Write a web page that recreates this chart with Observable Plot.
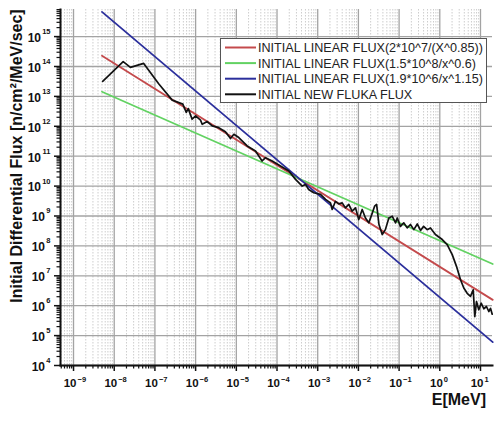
<!DOCTYPE html>
<html>
<head>
<meta charset="utf-8">
<script src="https://cdn.jsdelivr.net/npm/d3@7"></script>
<script src="https://cdn.jsdelivr.net/npm/@observablehq/plot@0.6"></script>
<style>
  body { margin: 0; background: #fff; }
  #chart { position: relative; width: 498px; height: 421px; }
  #chart svg { display: block; }
  #legend { position: absolute; left: 0; top: 0; pointer-events: none; }
</style>
</head>
<body>
<div id="chart"></div>
<script>
// Energy span (MeV) over which the fitted power laws are drawn
const fitEnergyRange = [5e-9, 20];

// Power-law fits: flux = coeff / E^exponent
const fitNames = [
  "INITIAL LINEAR FLUX(2*10^7/(X^0.85))",
  "INITIAL LINEAR FLUX(1.5*10^8/x^0.6)",
  "INITIAL LINEAR FLUX(1.9*10^6/x^1.15)"
];
const fitCoeff = [2e7, 1.5e8, 1.9e6];
const fitExponent = [0.85, 0.6, 1.15];
const fitColors = ["#c44a4c", "#62d262", "#2b2f9c"];

// FLUKA spectrum
const flukaName = "INITIAL NEW FLUKA FLUX";
const flukaEnergy = [
  5.2e-9, 1.66e-8, 2.5e-8, 5.3e-8, 1.25e-7, 2.66e-7, 4.85e-7, 5.9e-7, 6.6e-7, 8.2e-7,
  1.0e-6, 1.32e-6, 1.45e-6, 1.93e-6, 2.56e-6, 3.7e-6, 5.4e-6, 7.2e-6, 8.7e-6, 1.15e-5,
  1.85e-5, 2.96e-5, 4.3e-5, 5.2e-5, 7.6e-5, 1.22e-4, 1.95e-4, 2.85e-4, 4.16e-4, 5.0e-4,
  6.0e-4, 8.0e-4, 1.17e-3, 1.56e-3, 2.06e-3, 2.27e-3, 2.73e-3, 3.3e-3, 4.0e-3, 4.8e-3,
  5.8e-3, 7.0e-3, 8.5e-3, 1.02e-2, 1.24e-2, 1.49e-2, 1.8e-2, 2.2e-2, 2.5e-2, 2.8e-2,
  3.2e-2, 3.85e-2, 4.6e-2, 5.6e-2, 6.8e-2, 8.2e-2, 9.0e-2, 0.108, 0.130, 0.158,
  0.19, 0.23, 0.28, 0.336, 0.40, 0.49, 0.59, 0.78, 1.15, 1.52,
  2.02, 2.57, 3.23, 3.89, 4.71, 5.68, 6.62, 7.24, 7.98, 9.08,
  10.4, 12.05, 14.0, 16.0, 17.6, 19.4
];
const flukaFlux = [
  3.2e13, 1.45e14, 9.3e13, 1.27e14, 2.6e13, 7.5e12, 5.5e12, 2.9e12, 3.9e12, 1.73e12,
  2.23e12, 1.6e12, 1.17e12, 1.44e12, 1.03e12, 9.0e11, 6.6e11, 3.9e11, 5.4e11, 4.2e11,
  2.2e11, 1.49e11, 6.9e10, 8.9e10, 6.9e10, 4.7e10, 3.2e10, 1.68e10, 1.0e10, 1.14e10,
  7.7e9, 6.0e9, 5.3e9, 3.6e9, 2.75e9, 1.65e9, 3.1e9, 2.55e9, 2.75e9, 1.87e9,
  2.43e9, 1.45e9, 1.87e9, 7.6e8, 1.65e9, 8.6e8, 5.9e8, 1.27e9, 2.13e9, 2.43e9,
  5.2e8, 2.4e8, 3.5e8, 8.6e8, 9.8e8, 5.9e8, 8.6e8, 4.5e8, 5.9e8, 4.0e8,
  5.2e8, 3.5e8, 5.4e8, 3.3e8, 4.5e8, 3.5e8, 4.0e8, 2.4e8, 1.63e8, 1.1e8,
  5.1e7, 2.07e7, 7.4e6, 3.9e6, 2.6e6, 2.04e6, 3.4e6, 4.3e5, 1.38e6, 7.3e5,
  1.21e6, 7.9e5, 9.4e5, 6.4e5, 8.2e5, 5.2e5
];

// Axis decades (exponents of ten)
const xDecades = [-9, -8, -7, -6, -5, -4, -3, -2, -1, 0, 1];
const yDecades = [4, 5, 6, 7, 8, 9, 10, 11, 12, 13, 14, 15];

const xDomain = [10 ** -9.32, 10 ** 1.295];
const yDomain = [1e4, 10 ** 15.906];

const minorOf = (decades, domain) => {
  const out = [];
  for (let d = decades[0] - 1; d <= decades[decades.length - 1]; d++)
    for (let k = 2; k <= 9; k++) {
      const v = k * 10 ** d;
      if (v >= domain[0] && v <= domain[1]) out.push(v);
    }
  return out;
};
const xMajor = xDecades.map(d => 10 ** d);
const yMajor = yDecades.map(d => 10 ** d);
const xMinor = minorOf(xDecades, xDomain);
const yMinor = minorOf(yDecades, yDomain);

const fitLines = fitNames.map((name, i) =>
  fitEnergyRange.map(e => ({ e, flux: fitCoeff[i] / e ** fitExponent[i], name }))
);
const fluka = flukaEnergy.map((e, i) => ({ e, flux: flukaFlux[i] }));

const font = "'Liberation Sans', Arial, sans-serif";
const labelStyle = { fontWeight: "bold", fill: "#111" };

const plot = Plot.plot({
  width: 498,
  height: 421,
  marginLeft: 60,
  marginRight: 6,
  marginTop: 9,
  marginBottom: 56,
  style: { fontFamily: font, background: "#fff", overflow: "visible" },
  x: { type: "log", domain: xDomain, axis: null },
  y: { type: "log", domain: yDomain, axis: null },
  marks: [
    // grid
    Plot.ruleX(xMinor, { stroke: "#cdcdcd", strokeWidth: 1, strokeDasharray: "1.5,1.5" }),
    Plot.ruleX(xMajor, { stroke: "#a3a3a3", strokeWidth: 1.3 }),
    Plot.ruleY(yMajor, { stroke: "#a3a3a3", strokeWidth: 1.3 }),
    // fitted spectra
    ...fitLines.map((data, i) =>
      Plot.line(data, { x: "e", y: "flux", stroke: fitColors[i], strokeWidth: 1.8 })
    ),
    // FLUKA spectrum
    Plot.line(fluka, { x: "e", y: "flux", stroke: "#111", strokeWidth: 1.7, strokeLinejoin: "round" }),
    // axis lines
    Plot.frame({ anchor: "left", stroke: "#111", strokeWidth: 2 }),
    Plot.frame({ anchor: "bottom", stroke: "#111", strokeWidth: 2 }),
    // ticks
    Plot.axisX({ ticks: xMajor, tickSize: 6, tickFormat: () => "", label: null, stroke: "#111", strokeWidth: 1.5 }),
    Plot.axisX({ ticks: xMinor, tickSize: 3.5, tickFormat: () => "", label: null, stroke: "#111", strokeWidth: 1.2 }),
    Plot.axisY({ ticks: yMajor, tickSize: 6, tickFormat: () => "", label: null, stroke: "#111", strokeWidth: 1.5 }),
    Plot.axisY({ ticks: yMinor, tickSize: 3.5, tickFormat: () => "", label: null, stroke: "#111", strokeWidth: 1.2 }),
    // x tick labels: 10 with superscript exponent
    Plot.text(xDecades, { x: d => 10 ** d, frameAnchor: "bottom", dy: 21, dx: 3, textAnchor: "end",
      text: () => "10", fontSize: 11.5, ...labelStyle }),
    Plot.text(xDecades, { x: d => 10 ** d, frameAnchor: "bottom", dy: 16, dx: 4, textAnchor: "start",
      text: d => String(d).replace("-", "\u2212"), fontSize: 7.5, ...labelStyle }),
    // y tick labels (right-aligned as a whole)
    Plot.text(yDecades, { y: d => 10 ** d, frameAnchor: "left", dx: -10, dy: -5, textAnchor: "end",
      text: d => String(d), fontSize: 7.5, ...labelStyle }),
    Plot.text(yDecades.filter(d => d >= 10), { y: d => 10 ** d, frameAnchor: "left", dx: -19.5, dy: 1.5, textAnchor: "end",
      text: () => "10", fontSize: 12, ...labelStyle }),
    Plot.text(yDecades.filter(d => d < 10), { y: d => 10 ** d, frameAnchor: "left", dx: -15.5, dy: 1.5, textAnchor: "end",
      text: () => "10", fontSize: 12, ...labelStyle })
  ]
});

const svg = d3.select(plot);

// axis titles
svg.append("text")
  .attr("transform", "translate(22,156) rotate(-90)")
  .attr("text-anchor", "middle")
  .attr("font-family", font)
  .attr("font-weight", "bold")
  .attr("font-size", 16)
  .attr("fill", "#111")
  .text("Initial Differential Flux [n/cm\u00B2/MeV/sec]");

svg.append("text")
  .attr("x", 486)
  .attr("y", 405)
  .attr("text-anchor", "end")
  .attr("font-family", font)
  .attr("font-weight", "bold")
  .attr("font-size", 16)
  .attr("fill", "#111")
  .text("E[MeV]");

const chart = document.getElementById("chart");
chart.append(plot);

// legend, layered over the plot
const legendItems = fitNames.map((n, i) => ({ name: n, color: fitColors[i] }))
  .concat([{ name: flukaName, color: "#111" }]);
const legend = d3.create("svg")
  .attr("id", "legend")
  .attr("width", 498)
  .attr("height", 421);
legend.append("rect")
  .attr("x", 220.5).attr("y", 38.5).attr("width", 266).attr("height", 64)
  .style("fill", "#ffffff").style("stroke", "#555").style("stroke-width", "1px");
legendItems.forEach((item, i) => {
  const y = 47.5 + i * 15.6;
  legend.append("line")
    .attr("x1", 225).attr("x2", 256).attr("y1", y).attr("y2", y)
    .style("stroke", item.color).style("stroke-width", "2px");
  legend.append("text")
    .attr("x", 258).attr("y", y).attr("dy", "0.35em")
    .attr("text-anchor", "start")
    .style("font-family", font).style("font-size", "12.6px")
    .style("fill", "#222")
    .text(item.name);
});
chart.append(legend.node());
</script>
</body>
</html>
